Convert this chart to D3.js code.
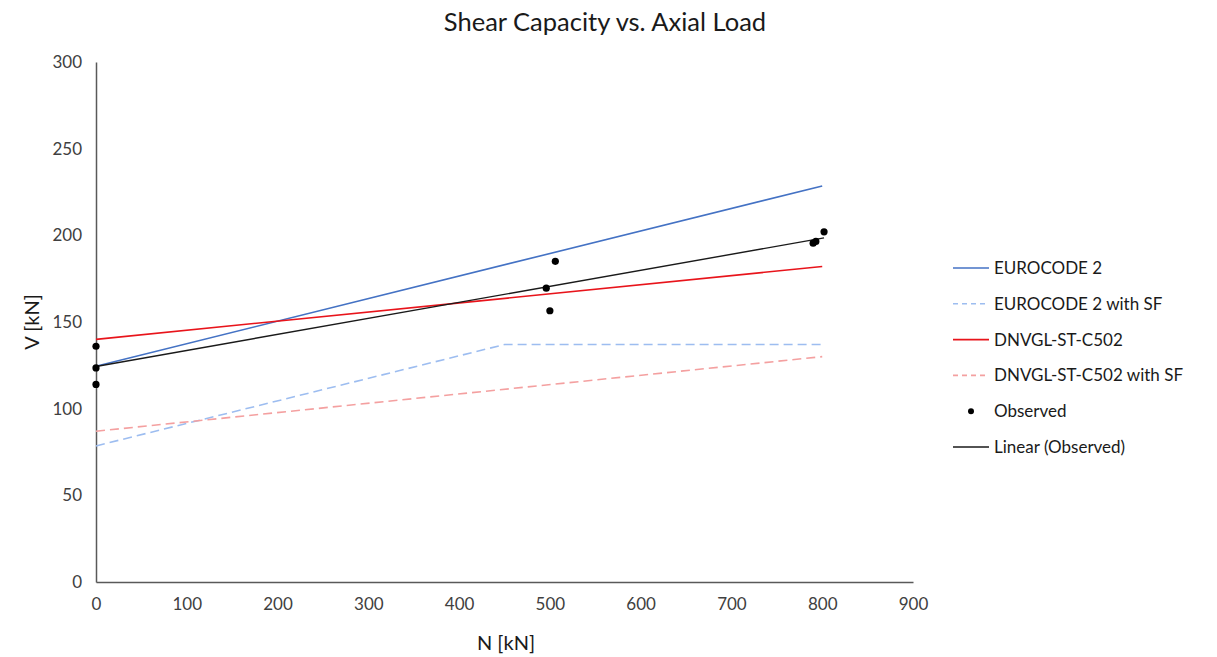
<!DOCTYPE html>
<html>
<head>
<meta charset="UTF-8">
<script src="https://cdn.jsdelivr.net/npm/d3@7"></script>
<style>
body { margin: 0; background: #fff; }
text { font-family: Lato, "Open Sans", sans-serif; }
</style>
</head>
<body>
<svg width="1217" height="657"></svg>
<script>

// data
var xTicks = [0, 100, 200, 300, 400, 500, 600, 700, 800, 900];
var yTicks = [0, 50, 100, 150, 200, 250, 300];

var ec2N = [0, 800];
var ec2V = [124.5, 228.5];
var ec2sfN = [0, 450, 800];
var ec2sfV = [78.5, 137, 137];
var dnvN = [0, 800];
var dnvV = [140, 182];
var dnvsfN = [0, 800];
var dnvsfV = [87, 130];

var obsN = [0, 0, 0, 496, 500, 506, 790, 793, 802];
var obsV = [136, 123.5, 114, 169.5, 156.5, 185, 195.5, 196.5, 202];

var svg = d3.select("svg"),
  margin = {top: 62, left: 96},
  width = 817,
  height = 520,
  g = svg.append("g").attr("transform", "translate(" + margin.left + "," + margin.top + ")");

var x = d3.scaleLinear().domain([0, 900]).range([0, width]);
var y = d3.scaleLinear().domain([0, 300]).range([height, 0]);

var axisColor = "#595959";

// least squares trend for observed
var mx = d3.mean(obsN), my = d3.mean(obsV);
var slope = d3.sum(obsN, function(d, i) { return (d - mx) * (obsV[i] - my); }) /
  d3.sum(obsN, function(d) { return (d - mx) * (d - mx); });
var icpt = my - slope * mx;
var trendN = [d3.min(obsN), d3.max(obsN)];
var trendV = trendN.map(function(n) { return icpt + slope * n; });

var series = [
  {name: "EUROCODE 2", n: ec2N, v: ec2V, color: "#4472C4", dash: null},
  {name: "EUROCODE 2 with SF", n: ec2sfN, v: ec2sfV, color: "#9DBDF0", dash: "9,5"},
  {name: "DNVGL-ST-C502", n: dnvN, v: dnvV, color: "#E8141B", dash: null},
  {name: "DNVGL-ST-C502 with SF", n: dnvsfN, v: dnvsfV, color: "#F4A0A0", dash: "9,5"}
];

var line = d3.line()
  .x(function(d) { return x(d[0]); })
  .y(function(d) { return y(d[1]); });

// axes
var xAxis = g.append("g")
  .attr("transform", "translate(0," + height + ")")
  .call(d3.axisBottom(x).tickValues(xTicks).tickSize(0).tickPadding(16));
var yAxis = g.append("g")
  .call(d3.axisLeft(y).tickValues(yTicks).tickSize(0).tickPadding(14));

[xAxis, yAxis].forEach(function(a) {
  a.select(".domain").attr("stroke", axisColor).attr("stroke-width", 1.5);
  a.selectAll("text")
    .attr("fill", "#404040")
    .style("font-size", "17px")
    .style("font-family", "Lato, 'Open Sans', sans-serif");
});

series.forEach(function(s) {
  g.append("path")
    .datum(d3.zip(s.n, s.v))
    .attr("fill", "none")
    .attr("stroke", s.color)
    .attr("stroke-width", 1.6)
    .attr("stroke-dasharray", s.dash)
    .attr("d", line);
});

g.append("path")
  .datum(d3.zip(trendN, trendV))
  .attr("fill", "none")
  .attr("stroke", "#1a1a1a")
  .attr("stroke-width", 1.4)
  .attr("d", line);

g.selectAll(".obs")
  .data(d3.zip(obsN, obsV))
  .enter().append("circle")
    .attr("class", "obs")
    .attr("cx", function(d) { return x(d[0]); })
    .attr("cy", function(d) { return y(d[1]); })
    .attr("r", 3.6)
    .attr("fill", "#000");

// title and axis labels
svg.append("text")
  .attr("x", 605).attr("y", 31)
  .attr("text-anchor", "middle")
  .attr("fill", "#1a1a1a")
  .style("font-size", "25.5px")
  .text("Shear Capacity vs. Axial Load");

svg.append("text")
  .attr("x", 506).attr("y", 650)
  .attr("text-anchor", "middle")
  .attr("fill", "#1a1a1a")
  .style("font-size", "20px")
  .text("N [kN]");

svg.append("text")
  .attr("transform", "translate(39,322) rotate(-90)")
  .attr("text-anchor", "middle")
  .attr("fill", "#1a1a1a")
  .style("font-size", "20px")
  .text("V [kN]");

// legend
var legendItems = series.map(function(s) { return {name: s.name, color: s.color, dash: s.dash, type: "line"}; });
legendItems.push({name: "Observed", color: "#000", type: "dot"});
legendItems.push({name: "Linear (Observed)", color: "#1a1a1a", dash: null, type: "line"});

var legend = svg.append("g").attr("transform", "translate(953,268)");
var rows = legend.selectAll("g")
  .data(legendItems)
  .enter().append("g")
    .attr("transform", function(d, i) { return "translate(0," + (i * 35.8) + ")"; });

rows.filter(function(d) { return d.type === "line"; })
  .append("line")
    .attr("x1", 0).attr("x2", 36)
    .attr("stroke", function(d) { return d.color; })
    .attr("stroke-width", 1.6)
    .attr("stroke-dasharray", function(d) { return d.dash ? "5,4" : null; });

rows.filter(function(d) { return d.type === "dot"; })
  .append("circle")
    .attr("cx", 18).attr("r", 3)
    .attr("fill", "#000");

rows.append("text")
  .attr("x", 41).attr("dy", "0.35em")
  .attr("fill", "#1a1a1a")
  .style("font-size", "17px")
  .text(function(d) { return d.name; });

</script>
</body>
</html>
